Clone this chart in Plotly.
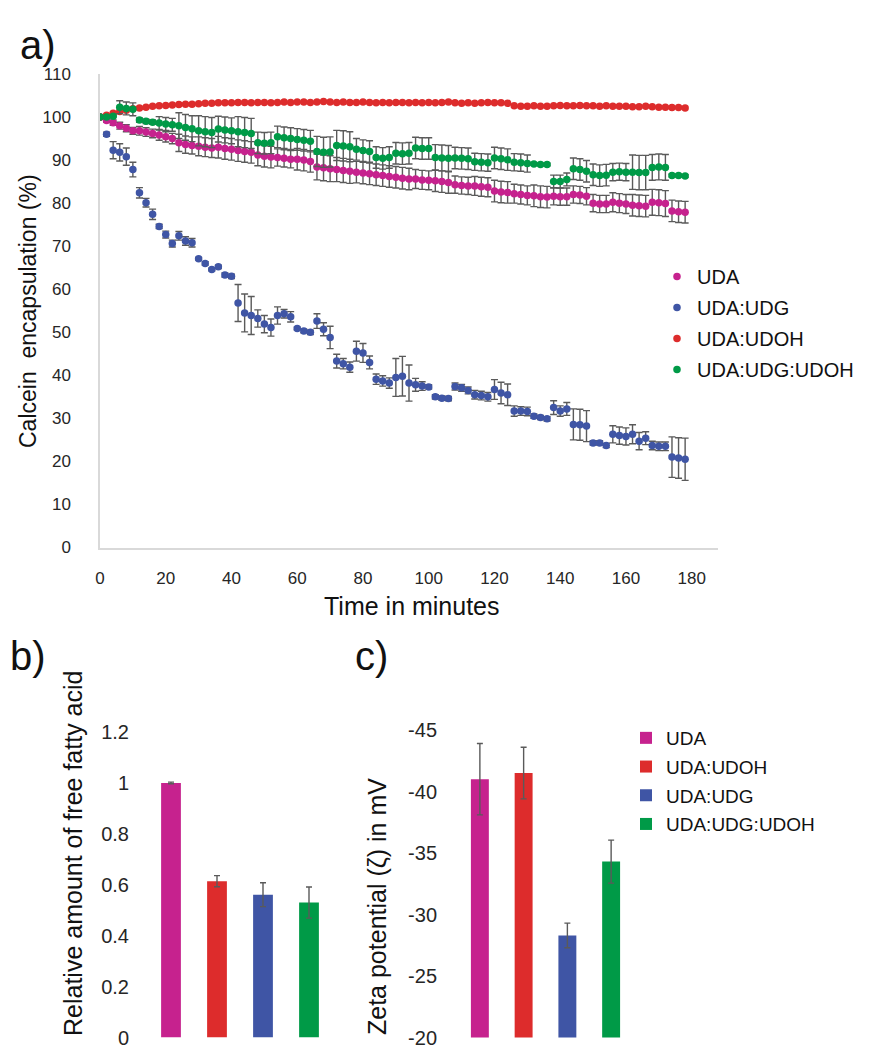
import plotly.graph_objects as go

# ---------------- data: panel a (calcein release) ----------------
time_min = list(range(0, 180, 2))

uda = [100.0, 99.2, 98.7, 98.0, 97.4, 96.8, 96.8, 96.5, 96.2, 95.8, 95.4, 95.0,
       94.0, 93.6, 93.4, 93.2, 93.0, 92.8, 93.0, 92.7, 92.5, 92.2, 92.0, 91.8,
       91.2, 90.9, 90.7, 90.6, 90.4, 90.2, 90.2, 90.0, 89.7, 88.4, 88.2, 88.0,
       87.8, 87.6, 87.4, 87.2, 87.0, 86.8, 86.6, 86.4, 86.2, 86.0, 85.8, 85.6,
       85.6, 85.4, 85.3, 85.2, 85.0, 84.8, 84.3, 84.1, 84.0, 84.0, 83.8, 83.7,
       82.8, 82.6, 82.5, 82.2, 82.0, 81.8, 81.7, 81.5, 81.4, 81.6, 81.5, 81.5,
       82.0, 81.9, 81.6, 80.0, 79.8, 79.8, 80.2, 80.0, 79.8, 79.5, 79.4, 79.3,
       80.2, 80.1, 79.9, 78.2, 78.0, 77.9]
uda_err = [0.2, 0.4, 0.6, 0.8, 0.8, 0.8, 1.0, 1.0, 1.0, 1.2, 1.2, 1.2,
           2.0, 2.0, 2.0, 2.2, 2.2, 2.2, 2.5, 2.5, 2.5, 2.5, 2.5, 2.5,
           2.5, 2.5, 2.5, 2.0, 2.0, 2.0, 2.5, 2.5, 2.5, 3.0, 3.0, 3.0,
           2.8, 2.8, 2.8, 2.5, 2.5, 2.5, 2.5, 2.5, 2.5, 2.5, 2.5, 2.5,
           2.2, 2.2, 2.2, 2.5, 2.5, 2.5, 2.0, 2.0, 2.0, 2.2, 2.2, 2.2,
           2.5, 2.5, 2.5, 2.2, 2.2, 2.2, 2.5, 2.5, 2.5, 2.0, 2.0, 2.0,
           2.0, 2.0, 2.0, 2.0, 2.0, 2.0, 2.2, 2.2, 2.2, 2.5, 2.5, 2.5,
           3.0, 3.0, 3.0, 2.5, 2.5, 2.5]

uda_udg = [100.0, 96.0, 92.3, 91.8, 90.8, 87.8, 82.4, 80.1, 77.4, 74.6, 72.7, 70.6,
           72.4, 71.2, 70.8, 67.1, 66.0, 64.6, 65.2, 63.3, 63.0, 56.8, 54.5, 53.9,
           53.2, 51.9, 51.1, 53.9, 54.3, 53.6, 50.9, 50.3, 50.0, 52.6, 50.7, 48.8,
           43.3, 42.7, 41.9, 45.6, 45.2, 43.0, 39.1, 38.7, 38.2, 39.5, 39.8, 38.2,
           37.8, 37.5, 37.3, 35.0, 34.7, 34.6, 37.4, 37.1, 36.5, 35.5, 35.3, 35.0,
           36.7, 35.9, 35.5, 31.7, 31.7, 31.6, 30.5, 30.2, 29.9, 32.5, 31.7, 32.2,
           28.6, 28.5, 28.2, 24.3, 24.3, 23.7, 26.3, 26.0, 25.8, 26.3, 24.7, 25.4,
           23.7, 23.5, 23.5, 21.0, 20.8, 20.5]
uda_udg_err = [0.0, 0.5, 2.0, 2.0, 2.0, 1.7, 1.2, 1.0, 1.2, 0.5, 0.8, 0.8,
               1.0, 1.0, 1.0, 0.3, 0.4, 0.3, 0.4, 0.5, 0.5, 4.3, 4.4, 4.4,
               2.0, 2.0, 2.0, 2.0, 1.0, 1.2, 0.3, 0.4, 0.5, 1.7, 1.5, 2.6,
               1.6, 1.2, 1.2, 2.3, 2.2, 1.5, 1.2, 1.2, 1.2, 4.4, 4.6, 4.2,
               1.5, 1.0, 0.5, 0.5, 0.5, 0.5, 0.8, 0.8, 0.8, 1.0, 1.0, 1.0,
               2.3, 2.5, 2.5, 1.2, 1.0, 1.0, 0.5, 0.5, 0.5, 1.6, 1.2, 1.5,
               3.6, 3.6, 3.6, 0.5, 0.5, 0.5, 2.0, 2.0, 2.0, 2.2, 2.0, 1.5,
               1.0, 1.0, 1.0, 4.7, 4.7, 4.9]

uda_udoh = [100.0, 100.4, 100.9, 101.3, 101.6, 101.9, 102.1, 102.3, 102.5, 102.6, 102.7, 102.8,
            102.9, 103.0, 103.0, 103.1, 103.2, 103.2, 103.3, 103.3, 103.3, 103.4, 103.4, 103.3,
            103.4, 103.4, 103.3, 103.4, 103.5, 103.4, 103.5, 103.5, 103.4, 103.5, 103.6, 103.5,
            103.4, 103.5, 103.4, 103.4, 103.5, 103.4, 103.3, 103.4, 103.3, 103.4, 103.4, 103.3,
            103.4, 103.3, 103.4, 103.3, 103.4, 103.5, 103.3, 103.2, 103.3, 103.2, 103.3, 103.4,
            103.3, 103.3, 103.2, 102.6, 102.5, 102.5, 102.6, 102.5, 102.5, 102.6, 102.7, 102.6,
            102.6, 102.7, 102.6, 102.6, 102.5, 102.6, 102.5, 102.5, 102.5, 102.4, 102.4, 102.5,
            102.4, 102.3, 102.3, 102.2, 102.2, 102.1]

uda_udg_udoh = [100.0, 100.0, 100.2, 102.3, 102.0, 101.8, 99.3, 99.0, 98.8, 98.6, 98.4, 98.2,
                98.0, 97.6, 97.3, 96.8, 96.6, 96.4, 97.2, 97.0, 96.8, 96.6, 96.4, 96.2,
                94.0, 93.9, 94.0, 95.4, 95.2, 95.0, 94.8, 94.6, 94.4, 92.0, 91.8, 91.9,
                93.4, 93.3, 93.1, 92.5, 92.2, 92.0, 90.6, 90.4, 90.6, 91.6, 91.5, 91.6,
                92.8, 92.7, 92.7, 90.6, 90.5, 90.4, 90.5, 90.4, 90.3, 89.6, 89.5, 89.4,
                90.5, 90.3, 90.1, 89.5, 89.4, 89.2, 89.1, 89.0, 89.0, 85.0, 85.0, 85.5,
                88.0, 87.8, 87.4, 86.6, 86.4, 86.5, 87.2, 87.3, 87.2, 87.2, 87.1, 87.1,
                88.3, 88.4, 88.3, 86.4, 86.4, 86.3]
uda_udg_udoh_err = [0.2, 0.2, 0.2, 1.5, 1.5, 1.5, 0.5, 0.5, 0.5, 1.5, 1.5, 1.5,
                    3.0, 3.0, 3.0, 3.5, 3.5, 3.5, 3.0, 3.0, 3.0, 3.5, 3.5, 3.5,
                    2.5, 2.5, 2.5, 2.5, 2.5, 2.5, 2.5, 2.5, 2.5, 3.5, 3.5, 3.5,
                    3.5, 3.5, 3.5, 2.5, 2.5, 2.5, 2.5, 2.5, 2.5, 2.5, 2.5, 2.5,
                    2.5, 2.5, 2.5, 3.0, 3.0, 3.0, 2.5, 2.5, 2.5, 2.0, 2.0, 2.0,
                    2.5, 2.5, 2.5, 2.0, 2.0, 2.0, 0.3, 0.3, 0.3, 1.5, 1.5, 1.5,
                    2.5, 2.5, 2.5, 2.5, 2.5, 2.5, 2.0, 2.0, 2.0, 4.0, 4.0, 4.0,
                    3.0, 3.0, 3.0, 0.3, 0.3, 0.3]

# ---------------- data: panels b and c ----------------
bar_names = ["UDA", "UDA:UDOH", "UDA:UDG", "UDA:UDG:UDOH"]
ffa_rel = [1.0, 0.614, 0.561, 0.530]
ffa_err = [0.003, 0.022, 0.047, 0.061]
zeta = [-41.0, -41.5, -28.3, -34.3]
zeta_err = [2.9, 2.1, 1.0, 1.75]
zeta_ticks = [-20, -25, -30, -35, -40, -45]
zeta_ticklabels = ["-20", "-25", "-30", "-35", "-40", "-45"]

# ---------------- styling ----------------
COL = {"UDA": "#C6228E", "UDA:UDG": "#3F55A5", "UDA:UDOH": "#DD2C2C", "UDA:UDG:UDOH": "#009A47"}
FONT = "Liberation Sans, Arial, sans-serif"
ERRC = "#5a5a5a"
OFF = 8                       # default body margin of the html page
W, H = 873 - OFF, 1051 - OFF


def px(x):
    return (x - OFF) / W


def py(y):
    return 1 - (y - OFF) / H


fig = go.Figure()

series_a = [("UDA", uda, uda_err), ("UDA:UDG", uda_udg, uda_udg_err),
            ("UDA:UDOH", uda_udoh, None), ("UDA:UDG:UDOH", uda_udg_udoh, uda_udg_udoh_err)]
for name, vals, err in series_a:
    kw = {}
    if err is not None:
        kw["error_y"] = dict(type="data", array=err, visible=True, color=ERRC,
                             thickness=1.4, width=3.5)
    fig.add_trace(go.Scatter(
        x=time_min, y=vals, mode="markers", name=name, legendgroup=name,
        marker=dict(color=COL[name], size=7.5), xaxis="x", yaxis="y",
        legend="legend", **kw))

for i, name in enumerate(bar_names):
    fig.add_trace(go.Bar(
        x=[name], y=[ffa_rel[i]], name=name, marker=dict(color=COL[name], line=dict(width=0)),
        width=0.43, xaxis="x2", yaxis="y2", showlegend=False,
        error_y=dict(type="data", array=[ffa_err[i]], color=ERRC, thickness=1.4, width=3)))

for i, name in enumerate(bar_names):
    fig.add_trace(go.Bar(
        x=[name], y=[zeta[i]], name=name, legendgroup="c" + name,
        marker=dict(color=COL[name], line=dict(width=0)),
        width=0.41, xaxis="x3", yaxis="y3", legend="legend2",
        error_y=dict(type="data", array=[zeta_err[i]], color=ERRC, thickness=1.4, width=3)))

axis_line = dict(showline=True, linecolor="#D9D9D9", linewidth=1.5, showgrid=False,
                 zeroline=False, ticks="")
tickfont_a = dict(family=FONT, size=17, color="#262626")
tickfont_bc = dict(family=FONT, size=20, color="#262626")

fig.update_layout(
    width=W, height=H, margin=dict(l=0, r=0, t=0, b=0, autoexpand=False),
    paper_bgcolor="white", plot_bgcolor="white",
    font=dict(family=FONT, color="#111111"),
    barmode="overlay",
    xaxis=dict(domain=[px(100), px(718)], range=[0, 188], dtick=20, tick0=0,
               tickfont=tickfont_a, ticklabelstandoff=14, anchor="y",
               ticklabeloverflow="allow", **axis_line),
    yaxis=dict(domain=[py(547.5), py(74)], range=[0, 110], dtick=10, tick0=0,
               tickfont=tickfont_a, ticklabelstandoff=24, anchor="x",
               ticklabeloverflow="allow", **axis_line),
    xaxis2=dict(domain=[px(148), px(332)], type="category", categoryarray=bar_names,
                categoryorder="array", range=[-0.5, 3.5], showticklabels=False,
                showline=False, showgrid=False, zeroline=False, ticks="", anchor="y2"),
    yaxis2=dict(domain=[py(1037.5), py(732)], range=[0, 1.2], dtick=0.2, tick0=0,
                tickfont=tickfont_bc, ticklabelstandoff=18, showline=False,
                showgrid=False, zeroline=False, ticks="", anchor="x2",
                ticklabeloverflow="allow"),
    xaxis3=dict(domain=[px(458), px(633)], type="category", categoryarray=bar_names,
                categoryorder="array", range=[-0.5, 3.5], showticklabels=False,
                showline=False, showgrid=False, zeroline=False, ticks="", anchor="y3"),
    yaxis3=dict(domain=[py(1037.5), py(730)], range=[-20, -45],
                tickvals=zeta_ticks, ticktext=zeta_ticklabels,
                tickfont=tickfont_bc, ticklabelstandoff=20, showline=False,
                showgrid=False, zeroline=False, ticks="", anchor="x3",
                ticklabeloverflow="allow"),
    legend=dict(x=px(657), y=py(257), xanchor="left", yanchor="top",
                font=dict(family=FONT, size=20, color="#111111"), tracegroupgap=2,
                bgcolor="rgba(0,0,0,0)", itemsizing="trace"),
    legend2=dict(x=px(626), y=py(719), xanchor="left", yanchor="top",
                 font=dict(family=FONT, size=19, color="#111111"), tracegroupgap=1,
                 bgcolor="rgba(0,0,0,0)"),
    showlegend=True,
)

ann = [("a)", 18, 45), ("b)", 8, 656), ("c)", 353, 656)]
for text, x, y in ann:
    fig.add_annotation(xref="paper", yref="paper", xanchor="left", yanchor="middle",
                       showarrow=False, text=text, x=px(x), y=py(y),
                       font=dict(family=FONT, size=40, color="#111111"))

titles = [
    ("Calcein  encapsulation (%)", 28, 311, -90, 23),
    ("Time in minutes", 412, 606, 0, 25),
    ("Relative amount of free fatty acid", 73, 854, -90, 25),
    ("Zeta potential (\u03b6) in mV", 377, 907, -90, 25),
]
for text, x, y, ang, size in titles:
    fig.add_annotation(xref="paper", yref="paper", xanchor="center", yanchor="middle",
                       showarrow=False, text=text, x=px(x), y=py(y), textangle=ang,
                       font=dict(family=FONT, size=size, color="#111111"))

fig.write_html("out.html")
